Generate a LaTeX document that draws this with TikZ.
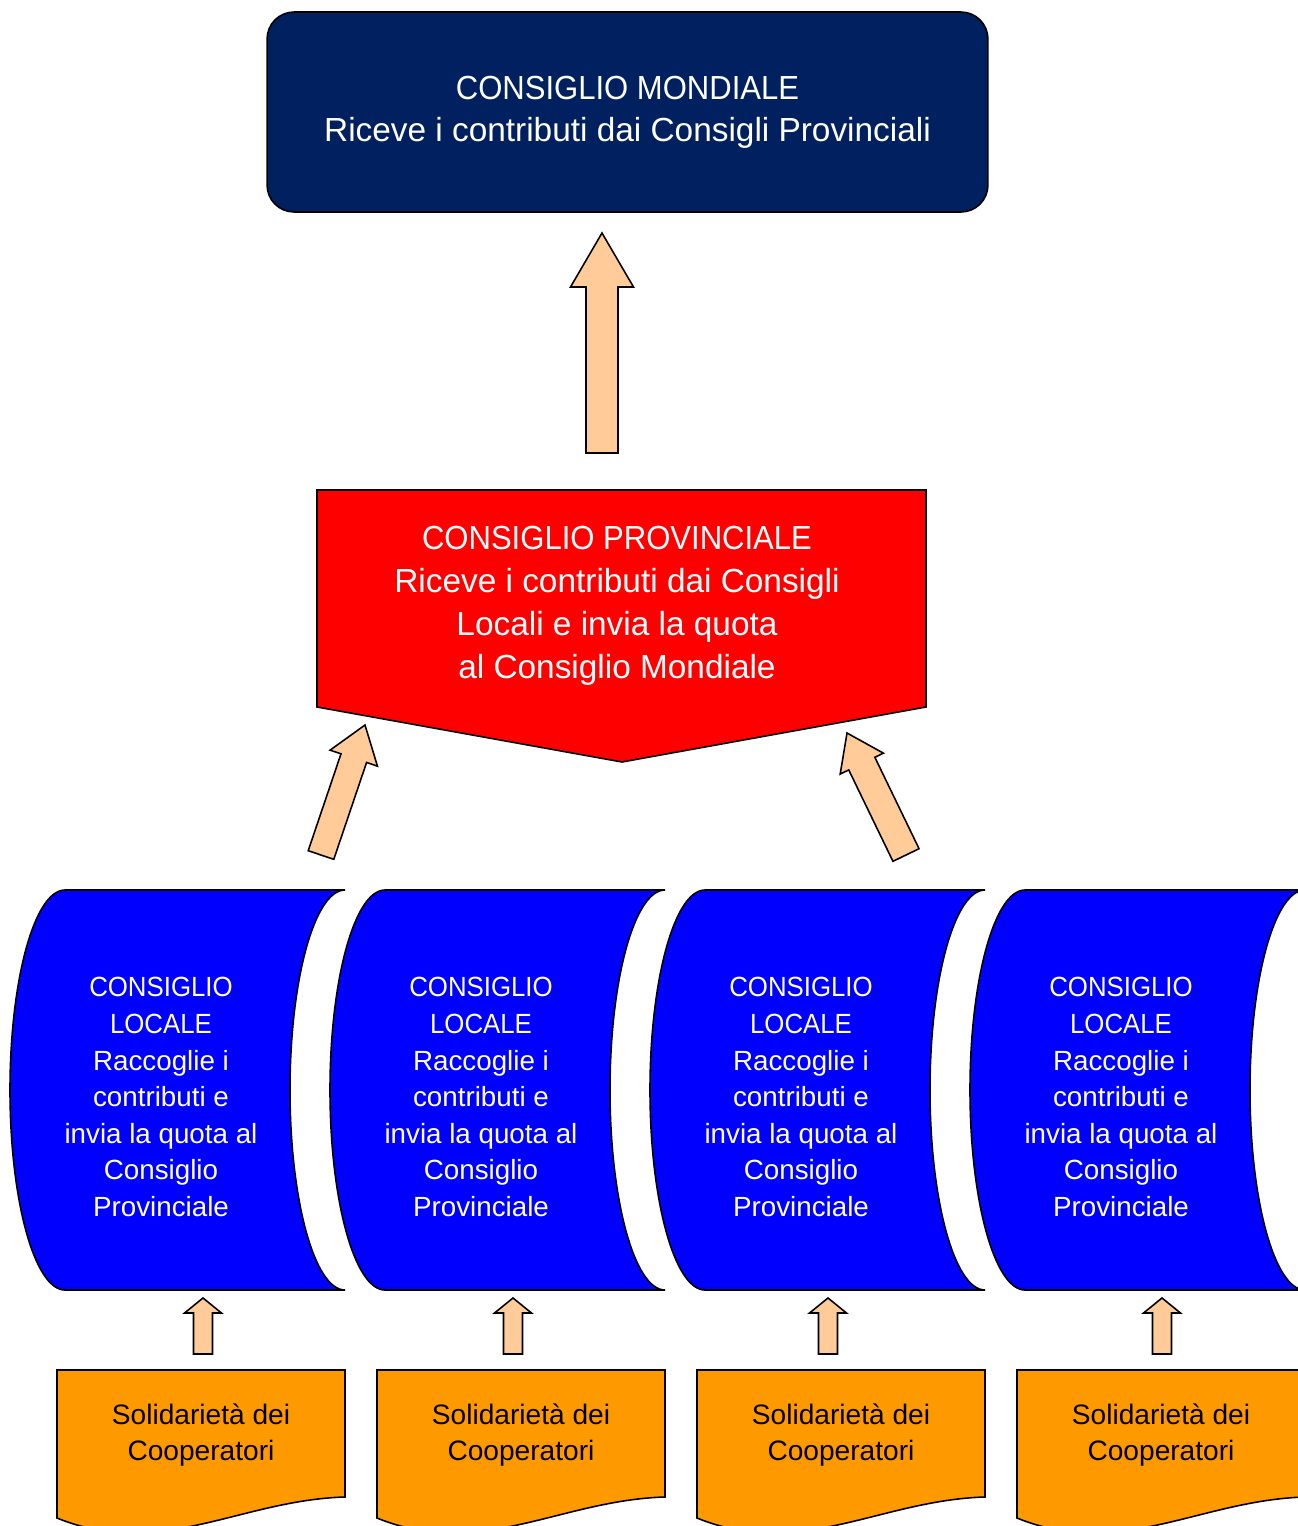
\documentclass[tikz,border=0pt]{standalone}
\usepackage{fontspec}
\setmainfont{Liberation Sans}
\newfontfamily\capsfont[FakeStretch=0.93]{Liberation Sans}
\usetikzlibrary{calc}

\definecolor{navy}{HTML}{002060}
\definecolor{locblue}{HTML}{0000FF}
\definecolor{solorange}{HTML}{FF9900}
\definecolor{peach}{HTML}{FFCC99}

\begin{document}
\begin{tikzpicture}[x=0.02cm, y=-0.02cm, line width=0.9pt, line join=miter,
    mondbox/.style={draw, fill=navy, rounded corners=0.54cm, minimum width=14.42cm,
      minimum height=4cm, text=white, align=center, font=\fontsize{19}{23.8}\selectfont},
    provshape/.style={draw, fill=red},
    provtext/.style={text=white, align=center, font=\fontsize{19}{24.4}\selectfont},
    locshape/.style={draw, fill=locblue},
    loctext/.style={text=white, align=center, font=\fontsize{15.8}{20.8}\selectfont},
    solshape/.style={draw, fill=solorange},
    soltext/.style={text=black, align=center, font=\fontsize{16}{20.4}\selectfont},
    arrowbody/.style={draw, fill=peach},
    fatarrow/.style n args={3}{to path={
      ($(\tikztotarget)!#3!(\tikztostart)$) coordinate (hb)
      ($(\tikztostart)!#1!90:(\tikztotarget)$) -- ($(hb)!#1!90:(\tikztotarget)$)
      -- ($(hb)!#2!90:(\tikztotarget)$) -- (\tikztotarget)
      -- ($(hb)!#2!-90:(\tikztotarget)$) -- ($(hb)!#1!-90:(\tikztotarget)$)
      -- ($(\tikztostart)!#1!-90:(\tikztotarget)$) -- cycle}}]

    \clip (0,0) rectangle (1298,1526);

    \node [mondbox] (mond) at (627.5,112) {{\capsfont CONSIGLIO MONDIALE}\\Riceve i contributi dai Consigli Provinciali};

    \draw [provshape] (317,490) -- (926,490) -- (926,707) -- (622,762) -- (317,707) -- cycle;
    \node [provtext] (prov) at (617,606) {{\capsfont CONSIGLIO PROVINCIALE}\\Riceve i contributi dai Consigli\\Locali e invia la quota\\al Consiglio Mondiale};

    \foreach \x/\i in {0/1, 320/2, 640/3, 960/4} {
      \draw [locshape] ({65+\x},890) -- ({345+\x},890)
        arc [start angle=270, end angle=90, x radius=55, y radius=200]
        -- ({65+\x},1290)
        arc [start angle=90, end angle=270, x radius=55, y radius=200] -- cycle;
      \node [loctext] (loc\i) at ({161+\x},1097) {{\capsfont CONSIGLIO}\\{\capsfont LOCALE}\\Raccoglie i\\contributi e\\invia la quota al\\Consiglio\\Provinciale};
      \draw [solshape] ({57+\x},1370) -- ({345+\x},1370) -- ({345+\x},1497)
        .. controls ({240+\x},1500) and ({160+\x},1560) .. ({57+\x},1518) -- cycle;
      \node [soltext] (sol\i) at ({201+\x},1435) {Solidariet\`a dei\\Cooperatori};
    }

    \coordinate (mondtip) at (602,233);
    \coordinate (provtail) at (602,453);
    \coordinate (lefttip) at (365,725);
    \coordinate (lefttail) at (321,855);
    \coordinate (righttip) at (847,733);
    \coordinate (righttail) at (906,855);

    \path [arrowbody]
      (provtail) to [fatarrow={0.32cm}{0.63cm}{1.08cm}] (mondtip)
      (lefttail) to [fatarrow={0.27cm}{0.5cm}{0.7cm}] (lefttip)
      (righttail) to [fatarrow={0.29cm}{0.48cm}{0.68cm}] (righttip);

    \foreach \i/\ax in {1/203, 2/513, 3/828, 4/1162} {
      \coordinate (soltail\i) at (\ax,1354);
      \coordinate (loctip\i) at (\ax,1298);
      \path [arrowbody] (soltail\i) to [fatarrow={0.19cm}{0.37cm}{0.3cm}] (loctip\i);
    }
\end{tikzpicture}
\end{document}
